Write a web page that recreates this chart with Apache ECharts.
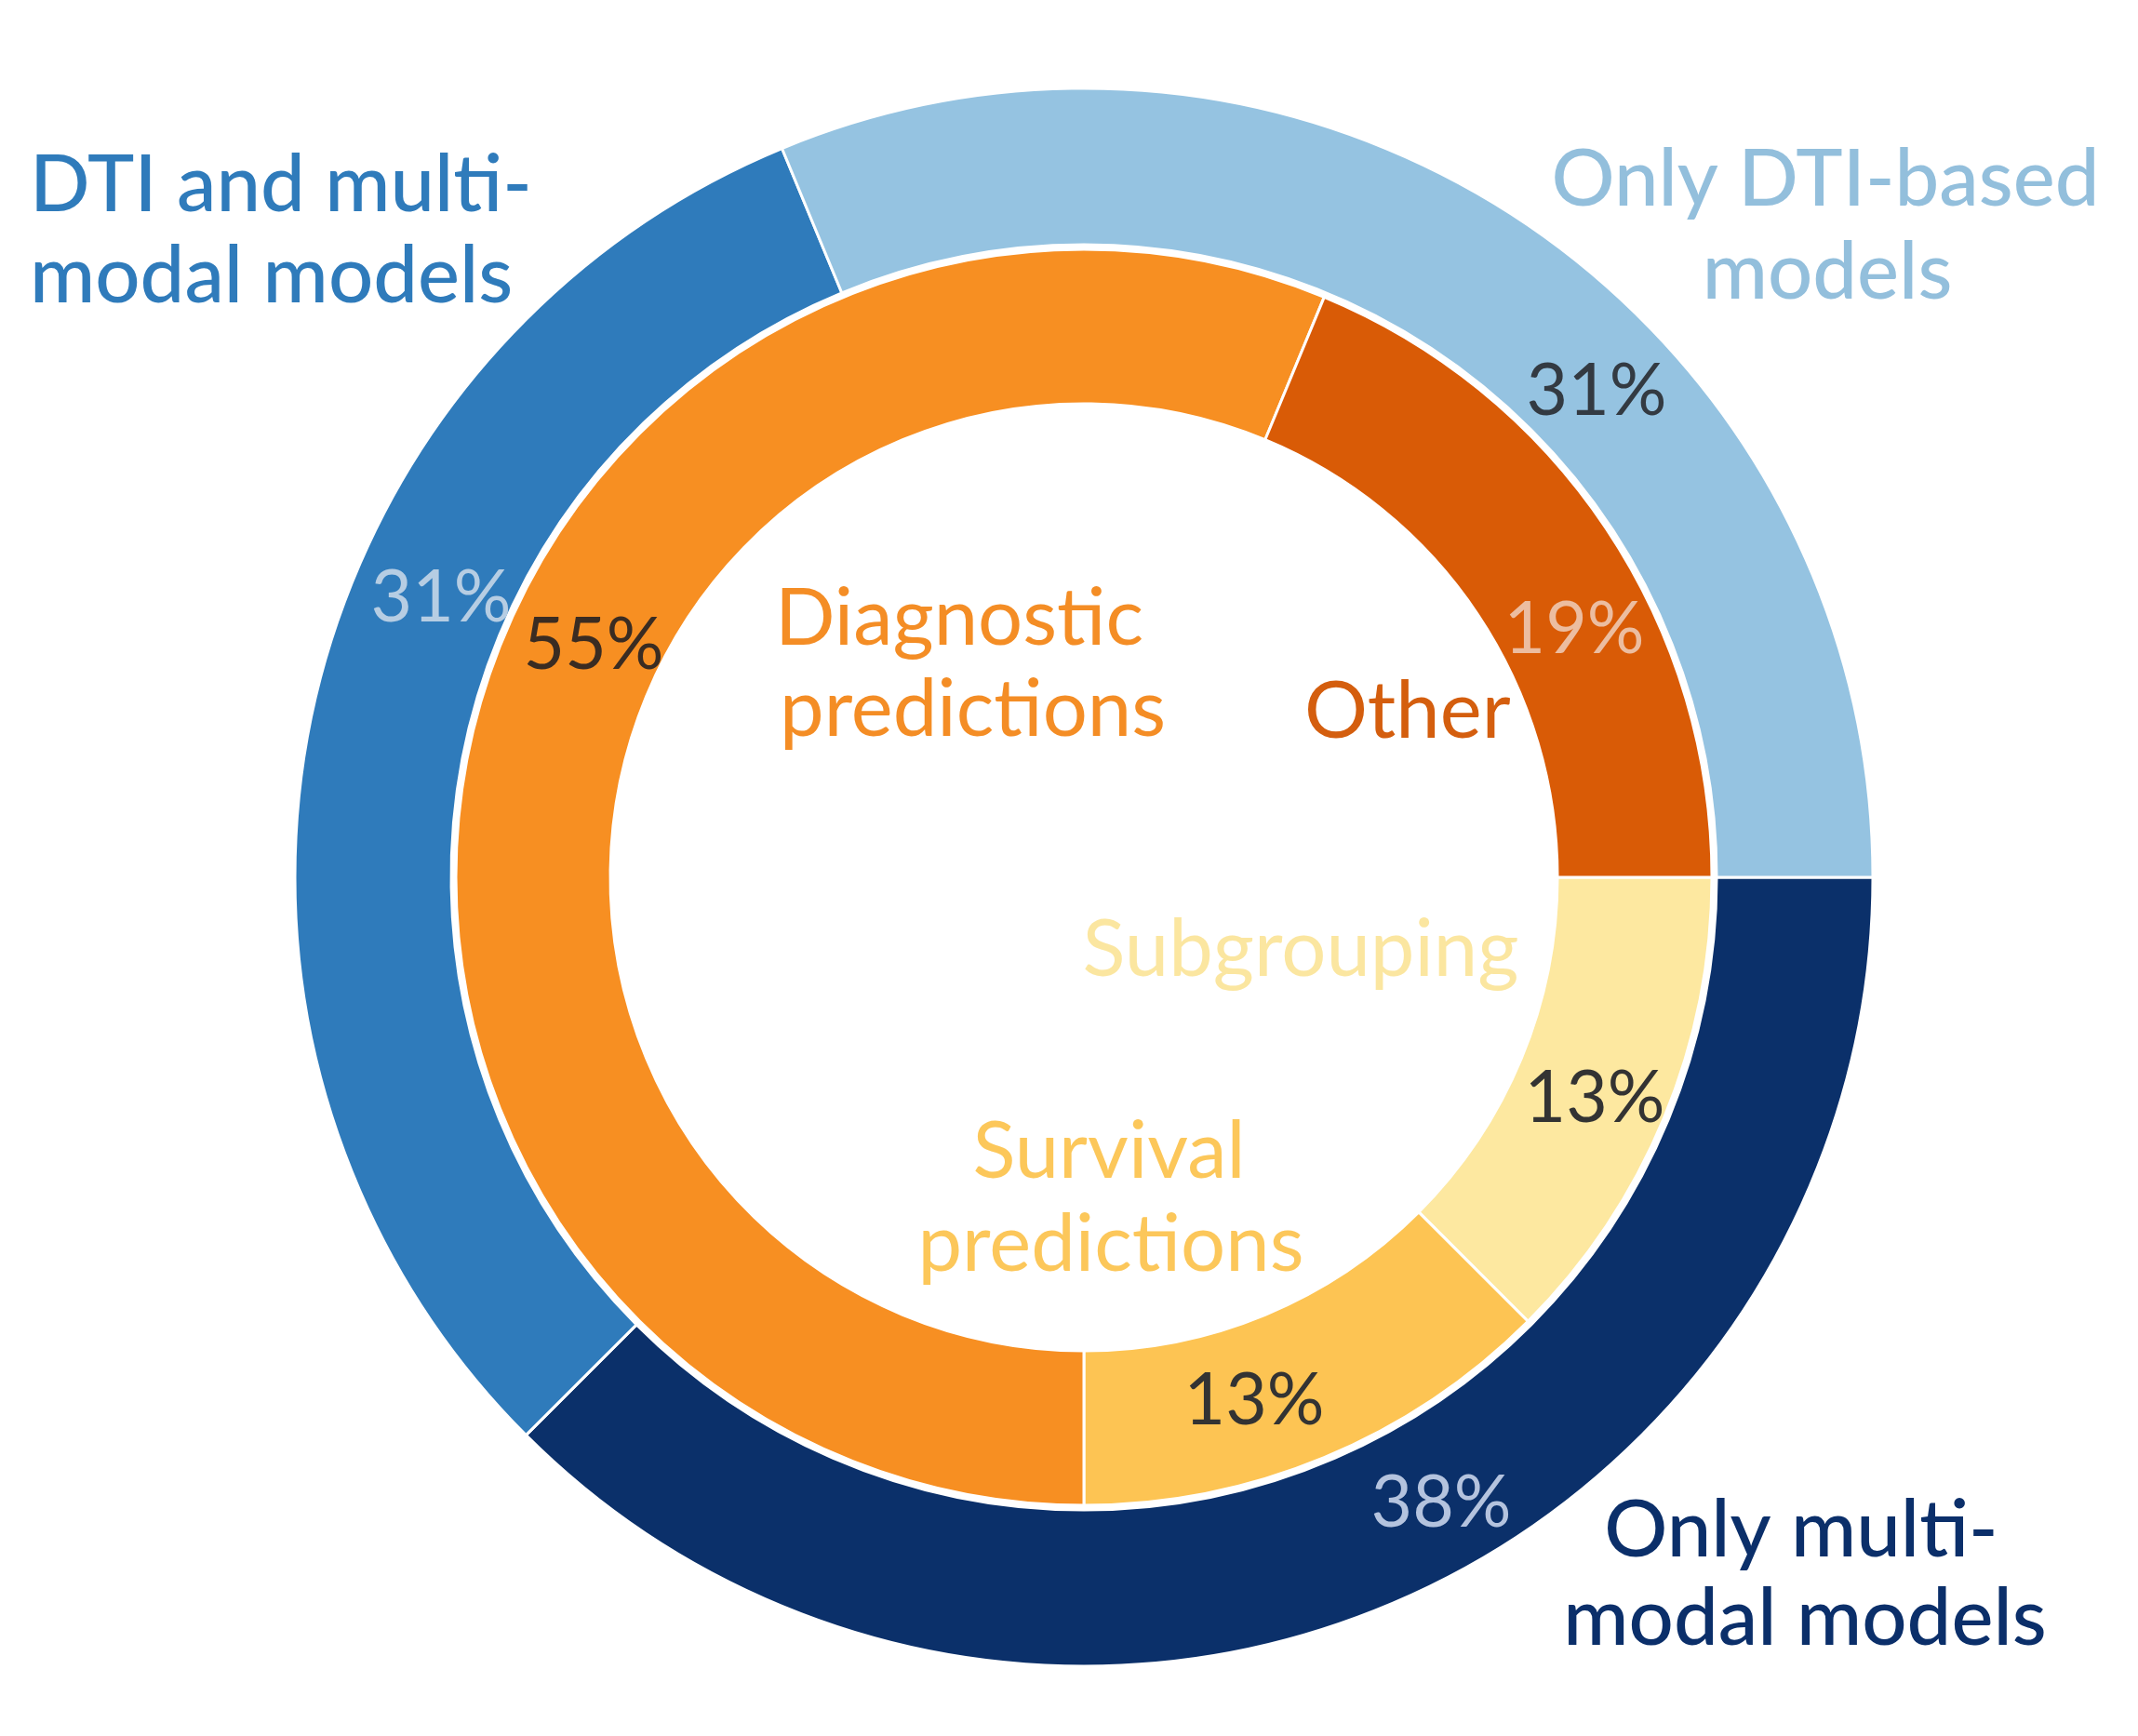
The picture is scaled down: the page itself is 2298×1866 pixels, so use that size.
<!DOCTYPE html>
<html>
<head>
<meta charset="utf-8">
<script src="https://cdn.jsdelivr.net/npm/echarts@6/dist/echarts.min.js"></script>
<style>
  html, body { margin: 0; padding: 0; background: #ffffff; }
  #chart { width: 2298px; height: 1866px; }
</style>
</head>
<body>
<div id="chart"></div>
<script>
// ---- data (study counts; printed percentages as shown) ----
const outerCategories = ['Only multi-modal models', 'DTI and multi-modal models', 'Only DTI-based models'];
const outerValues = [6, 5, 5];
const outerPercentText = ['38%', '31%', '31%'];

const innerCategories = ['Subgrouping', 'Survival predictions', 'Diagnostic predictions', 'Other'];
const innerValues = [2, 2, 9, 3];
const innerPercentText = ['13%', '13%', '55%', '19%'];

// ---- styles ----
const FONT = 'Lato, "Noto Sans", sans-serif';
const outerColors = ['#0b306a', '#2f7bbb', '#95c3e1'];
const innerColors = ['#fde8a0', '#fdc453', '#f78f22', '#d95b06'];

const CX = 1165, CY = 943;

const chart = echarts.init(document.getElementById('chart'), null, { renderer: 'canvas' });

function txt(text, x, y, color, size, align, weight) {
  return {
    type: 'text', x: x, y: y, z: 100,
    style: {
      text: text, fill: color, font: (weight || 'normal') + ' ' + size + 'px ' + FONT,
      textAlign: align || 'center', textVerticalAlign: 'middle'
    }
  };
}

const NAME = 85, PCT = 77;
const graphics = [
  // outer ring category names
  txt('DTI and multi-', 32, 200, '#2f7bbb', NAME, 'left', '500'),
  txt('modal models', 32, 298, '#2f7bbb', NAME, 'left', '500'),
  txt('Only DTI-based', 1962, 194, '#93bfdc', NAME, 'center', '500'),
  txt('models', 1964, 294, '#93bfdc', NAME, 'center', '500'),
  txt('Only multi-', 1936, 1646, '#0b2f6a', NAME, 'center', '500'),
  txt('modal models', 1940, 1741, '#0b2f6a', NAME, 'center', '500'),
  // inner ring category names
  txt('Diagnostic', 833, 666, '#f48d25', NAME, 'left'),
  txt('predictions', 838, 764, '#f48d25', NAME, 'left'),
  txt('Other', 1402, 766, '#d45e0e', NAME, 'left'),
  txt('Subgrouping', 1398, 1022, '#fbe6a0', NAME, 'center'),
  txt('Survival', 1192, 1239, '#fcc75a', NAME, 'center'),
  txt('predictions', 1194, 1339, '#fcc75a', NAME, 'center'),
  // percentages
  txt(outerPercentText[0], 1549, 1616, '#b4c3de', PCT),
  txt(outerPercentText[1], 474, 643, '#b6cde3', PCT),
  txt(outerPercentText[2], 1716, 421, '#333a42', PCT),
  txt(innerPercentText[0], 1714, 1181, '#333333', PCT),
  txt(innerPercentText[1], 1348, 1506, '#333333', PCT),
  txt(innerPercentText[2], 638, 694, '#3a2c22', PCT),
  txt(innerPercentText[3], 1692, 677, '#ecbda0', PCT)
];

chart.setOption({
  backgroundColor: '#ffffff',
  animation: false,
  series: [
    {
      type: 'pie',
      center: [CX, CY],
      radius: [680, 848],
      startAngle: 0,
      clockwise: true,
      label: { show: false },
      labelLine: { show: false },
      itemStyle: { borderColor: '#ffffff', borderWidth: 3 },
      data: outerCategories.map((c, i) => ({ name: c, value: outerValues[i], itemStyle: { color: outerColors[i] } }))
    },
    {
      type: 'pie',
      center: [CX, CY],
      radius: [509, 675],
      startAngle: 0,
      clockwise: true,
      label: { show: false },
      labelLine: { show: false },
      itemStyle: { borderColor: '#ffffff', borderWidth: 3 },
      data: innerCategories.map((c, i) => ({ name: c, value: innerValues[i], itemStyle: { color: innerColors[i] } }))
    }
  ],
  graphic: graphics
});
</script>
</body>
</html>
